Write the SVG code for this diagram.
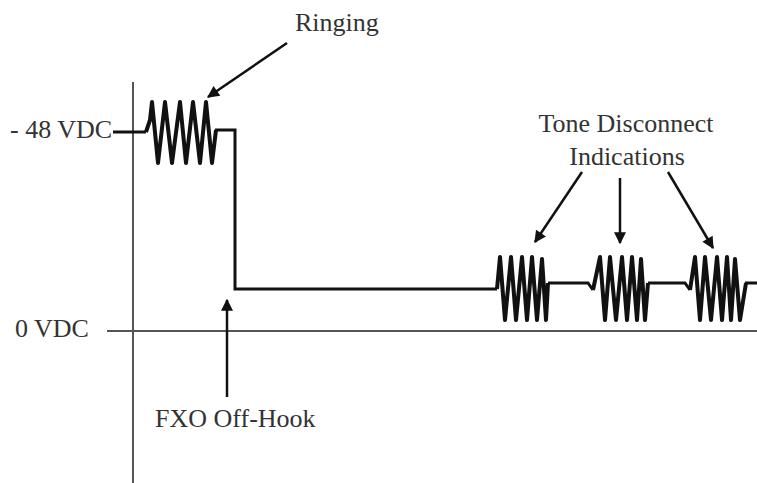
<svg xmlns="http://www.w3.org/2000/svg" width="757" height="483" viewBox="0 0 757 483">
<style>
.t{font-family:"Liberation Serif","Times New Roman",serif;font-size:26px;fill:#333}
.ax{stroke:#555;stroke-width:2;fill:none}
.sig{stroke:#111;stroke-width:3;fill:none;stroke-linejoin:miter}
.burst{stroke:#111;stroke-width:4;fill:none;stroke-linejoin:round}
.arr{stroke:#111;stroke-width:2.5;fill:none;marker-end:url(#ah)}
</style>
<defs>
<marker id="ah" viewBox="0 0 10 10" refX="9" refY="5" markerUnits="userSpaceOnUse" markerWidth="14" markerHeight="12" orient="auto">
<path d="M0,0 L10,5 L0,10 Z" fill="#111"/>
</marker>
</defs>
<g id="axes">
<line class="ax" x1="133" y1="82" x2="133" y2="483"/>
<line class="ax" x1="107" y1="331" x2="757" y2="331"/>
</g>
<g id="labels">
<text class="t" x="10" y="138">- 48 VDC</text>
<text class="t" x="15" y="337">0 VDC</text>
<text class="t" x="295" y="31">Ringing</text>
<text class="t" x="626" y="132" text-anchor="middle">Tone Disconnect</text>
<text class="t" x="627" y="165" text-anchor="middle">Indications</text>
<text class="t" x="155" y="427">FXO Off-Hook</text>
</g>
<g id="signal">
<polyline class="sig" points="113,132 146,132"/>
<polyline class="burst" points="146,132 150,120 152,102 158,163 165,102 172,163 180,102 186,163 193,102 200,163 206,102 212,163 216,130"/>
<polyline class="sig" points="215,130 235,130 235,289 497,289"/>
<polyline class="burst" points="497,289 500,257 505,320 511,257 516,320 522,257 527,320 532,257 537,320 542,259 546,320 548,283"/>
<polyline class="sig" points="548,283 588,283 593,290"/>
<polyline class="burst" points="593,290 600,257 605,320 610,257 616,320 622,257 627,320 632,257 637,320 641,259 645,320 648,283"/>
<polyline class="sig" points="648,283 685,283 690,290"/>
<polyline class="burst" points="690,290 695,257 700,320 705,257 711,320 717,257 722,320 727,257 731,320 735,259 740,320 746,283"/>
<polyline class="sig" points="745,283 757,283"/>
</g>
<g id="connectors">
<line class="arr" x1="287" y1="43" x2="208" y2="97"/>
<line class="arr" x1="227" y1="397" x2="227" y2="300"/>
<line class="arr" x1="582" y1="172" x2="535" y2="242"/>
<line class="arr" x1="620" y1="178" x2="620" y2="243"/>
<line class="arr" x1="668" y1="172" x2="713" y2="248"/>
</g>
</svg>
